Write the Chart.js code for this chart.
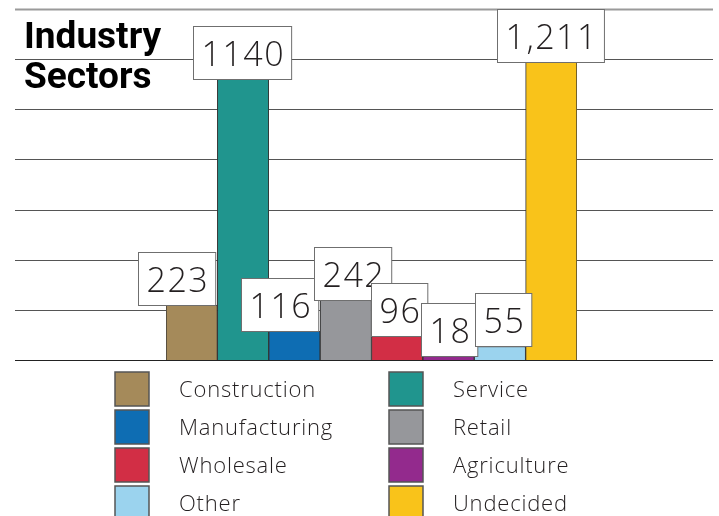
<!DOCTYPE html>
<html>
<head>
<meta charset="utf-8">
<script src="https://cdn.jsdelivr.net/npm/chart.js@4"></script>
<style>
  html, body { margin: 0; padding: 0; background: #fff; }
  #wrap { width: 719px; height: 516px; position: relative; }
</style>
</head>
<body>
<div id="wrap"><canvas id="sectorChart"></canvas></div>
<script>
// Data
const sectors = ['Construction', 'Service', 'Manufacturing', 'Retail', 'Wholesale', 'Agriculture', 'Other', 'Undecided'];
const counts = [223, 1140, 116, 242, 96, 18, 55, 1211];
const valueLabels = ['223', '1140', '116', '242', '96', '18', '55', '1,211'];
const sectorColors = ['#a58a5a', '#20958e', '#0e6db3', '#96979b', '#d22e45', '#932a8d', '#9bd3ee', '#f9c31a'];
const titleLines = ['Industry', 'Sectors'];

// Value-box nudges so they do not sit over the neighbouring tall bars (px)
const boxShift = [-15, -1, -15, 7, 2, 1, 3, -1];

const gridPlugin = {
    id: 'wideGrid',
    beforeDatasetsDraw(chart) {
        const { ctx } = chart;
        const y = chart.scales.y;
        const ticks = y.ticks;
        ctx.save();
        ticks.forEach((t, i) => {
            const py = Math.round(y.getPixelForValue(t.value)) + 0.5;
            if (i === ticks.length - 1) {
                ctx.strokeStyle = '#9a9a9a';
                ctx.lineWidth = 2;
            } else if (i === 0) {
                ctx.strokeStyle = '#222';
                ctx.lineWidth = 1.2;
            } else {
                ctx.strokeStyle = '#555';
                ctx.lineWidth = 1;
            }
            ctx.beginPath();
            ctx.moveTo(15, py);
            ctx.lineTo(713, py);
            ctx.stroke();
        });
        ctx.restore();
    }
};

const boxPlugin = {
    id: 'valueBoxes',
    afterDatasetsDraw(chart) {
        const { ctx } = chart;
        const meta = chart.getDatasetMeta(0);
        ctx.save();
        ctx.font = '350 34px "Open Sans"';
        ctx.letterSpacing = '1.5px';
        ctx.textAlign = 'left';
        ctx.textBaseline = 'alphabetic';
        meta.data.forEach((bar, i) => {
            const txt = valueLabels[i];
            const tw = ctx.measureText(txt).width - 1.5;
            const w = tw + 16;
            const h = 53;
            const cx = bar.x + boxShift[i];
            const left = Math.round(cx - w / 2) + 0.5;
            const top = Math.round(bar.y - h) + 0.5;
            ctx.fillStyle = '#fff';
            ctx.fillRect(left, top, w, h);
            ctx.strokeStyle = '#6f6f6f';
            ctx.lineWidth = 1;
            ctx.strokeRect(left, top, w, h);
            ctx.fillStyle = '#231f20';
            ctx.fillText(txt, left + (w - tw) / 2, top + 39);
        });
        ctx.restore();
    }
};

const decorPlugin = {
    id: 'decor',
    afterDraw(chart) {
        const { ctx } = chart;
        ctx.save();
        // title
        ctx.fillStyle = '#000';
        ctx.font = 'bold 37px Roboto';
        ctx.textAlign = 'left';
        ctx.textBaseline = 'alphabetic';
        ctx.fillText(titleLines[0], 24, 48);
        ctx.fillText(titleLines[1], 24, 88);

        // two-column legend
        ctx.font = '350 22px "Open Sans"';
        ctx.letterSpacing = '0.8px';
        sectors.forEach((name, i) => {
            const col = i % 2;
            const row = Math.floor(i / 2);
            const sx = col === 0 ? 115 : 389;
            const sy = 372 + row * 38;
            ctx.fillStyle = sectorColors[i];
            ctx.fillRect(sx, sy, 34, 34);
            ctx.strokeStyle = '#555';
            ctx.lineWidth = 1.5;
            ctx.strokeRect(sx, sy, 34, 34);
            ctx.fillStyle = '#231f20';
            ctx.fillText(name, sx + 64, sy + 25);
        });
        ctx.restore();
    }
};

const ctx = document.getElementById('sectorChart').getContext('2d');
new Chart(ctx, {
    type: 'bar',
    data: {
        labels: sectors,
        datasets: [{
            data: counts,
            backgroundColor: sectorColors,
            borderColor: '#333',
            borderWidth: 1,
            barPercentage: 1,
            categoryPercentage: 1
        }]
    },
    options: {
        responsive: true,
        maintainAspectRatio: false,
        animation: false,
        layout: { padding: { left: 166, right: 142, top: 9, bottom: 156 } },
        plugins: {
            legend: { display: false },
            tooltip: { enabled: false }
        },
        scales: {
            x: { display: false },
            y: {
                display: false,
                min: 0,
                max: 1426,
                ticks: { stepSize: 1426 / 7 }
            }
        }
    },
    plugins: [gridPlugin, boxPlugin, decorPlugin]
});
</script>
</body>
</html>
